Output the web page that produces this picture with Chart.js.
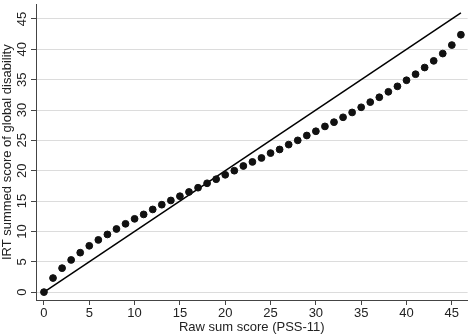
<!DOCTYPE html>
<html>
<head>
<meta charset="utf-8">
<script src="https://cdn.jsdelivr.net/npm/chart.js@4/dist/chart.umd.min.js"></script>
<style>
  html, body { margin: 0; padding: 0; background: #fff; }
  #wrap { width: 472px; height: 335px; position: relative; }
</style>
</head>
<body>
<div id="wrap"><canvas id="irtChart"></canvas></div>
<script>
// raw PSS-11 sum score vs IRT summed score
const rawScores = [0, 1, 2, 3, 4, 5, 6, 7, 8, 9, 10, 11, 12, 13, 14, 15, 16, 17, 18, 19, 20, 21, 22, 23,
    24, 25, 26, 27, 28, 29, 30, 31, 32, 33, 34, 35, 36, 37, 38, 39, 40, 41, 42, 43, 44, 45, 46];
const irtScores = [0, 2.32, 3.95, 5.3, 6.5, 7.63, 8.6, 9.5, 10.4, 11.25, 12.07, 12.8, 13.62, 14.4, 15.1,
    15.8, 16.5, 17.2, 17.93, 18.6, 19.33, 20.0, 20.78, 21.45, 22.1, 22.9, 23.5, 24.3, 25.0, 25.8, 26.5,
    27.3, 28.0, 28.8, 29.6, 30.45, 31.3, 32.1, 33.0, 33.9, 34.9, 35.9, 37.0, 38.1, 39.3, 40.7, 42.4];
const refLineX = [0, 46];
const refLineY = [0, 46];
const xTicks = [0, 5, 10, 15, 20, 25, 30, 35, 40, 45];
const yTicks = [0, 5, 10, 15, 20, 25, 30, 35, 40, 45];

const FONT = '"Liberation Sans", Arial, sans-serif';
const TEXT = '#222';

// y tick labels are rotated like the original, chart.js won't rotate them on a vertical axis
const yTickLabels = {
    id: 'yTickLabels',
    afterDraw(chart) {
        const s = chart.scales.y;
        const ctx = chart.ctx;
        ctx.save();
        ctx.font = '13px ' + FONT;
        ctx.fillStyle = TEXT;
        ctx.textAlign = 'center';
        ctx.textBaseline = 'middle';
        s.ticks.forEach(t => {
            ctx.save();
            ctx.translate(22, s.getPixelForValue(t.value));
            ctx.rotate(-Math.PI / 2);
            ctx.fillText(String(t.value), 0, 0);
            ctx.restore();
        });
        ctx.restore();
    }
};

const ctx = document.getElementById('irtChart').getContext('2d');
new Chart(ctx, {
    type: 'scatter',
    data: {
        datasets: [{
            type: 'line',
            data: refLineX.map((x, i) => ({ x: x, y: refLineY[i] })),
            borderColor: '#000',
            borderWidth: 1.5,
            pointRadius: 0,
            fill: false,
            order: 2
        }, {
            data: rawScores.map((x, i) => ({ x: x, y: irtScores[i] })),
            backgroundColor: '#111',
            borderColor: '#111',
            pointRadius: 3.4,
            pointHoverRadius: 3.4,
            order: 1
        }]
    },
    options: {
        responsive: true,
        maintainAspectRatio: false,
        animation: false,
        layout: { padding: { top: 0, right: 2, bottom: 0, left: 0 } },
        plugins: {
            legend: { display: false },
            tooltip: { enabled: false }
        },
        scales: {
            x: {
                type: 'linear',
                min: -0.878,
                max: 46.74,
                afterBuildTicks: s => { s.ticks = xTicks.map(v => ({ value: v })); },
                afterFit: s => { s.height = 35; },
                grid: { drawOnChartArea: false, tickLength: 5, tickColor: '#444' },
                border: { color: '#444', width: 1 },
                ticks: { font: { family: FONT, size: 13 }, color: TEXT, padding: 1, maxRotation: 0 },
                title: {
                    display: true,
                    text: 'Raw sum score (PSS-11)',
                    font: { family: FONT, size: 13 },
                    color: TEXT,
                    padding: 0
                }
            },
            y: {
                type: 'linear',
                min: -1.3,
                max: 47.4,
                afterBuildTicks: s => { s.ticks = yTicks.map(v => ({ value: v })); },
                afterFit: s => { s.width = 36; },
                grid: { color: '#dcdcdc', lineWidth: 1, tickLength: 5, tickColor: '#444' },
                border: { color: '#444', width: 1 },
                ticks: { display: false },
                title: {
                    display: true,
                    text: 'IRT summed score of global disability',
                    font: { family: FONT, size: 13 },
                    color: TEXT,
                    padding: 0
                }
            }
        }
    },
    plugins: [yTickLabels]
});
</script>
</body>
</html>
